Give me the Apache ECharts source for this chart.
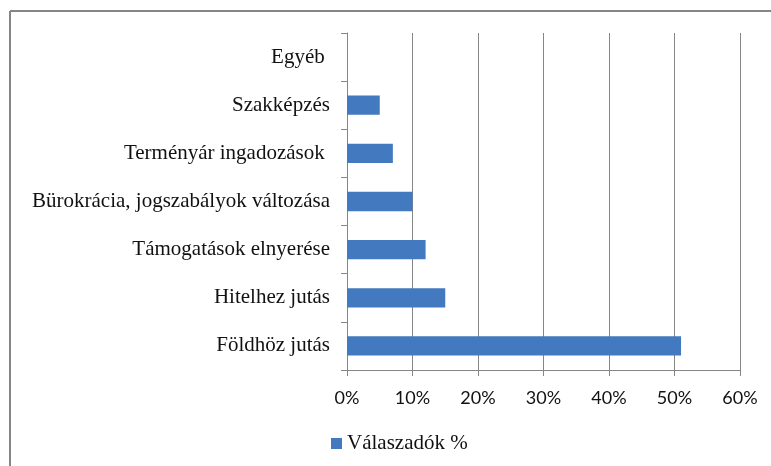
<!DOCTYPE html>
<html>
<head>
<meta charset="utf-8">
<script src="https://cdn.jsdelivr.net/npm/echarts@6/dist/echarts.min.js"></script>
<style>
  html, body { margin: 0; padding: 0; background: #fff; }
  #chart { width: 771px; height: 466px; }
</style>
</head>
<body>
<div id="chart"></div>
<script>
// adatok (alulról felfelé)
const categories = [
  'Földhöz jutás',
  'Hitelhez jutás',
  'Támogatások elnyerése',
  'Bürokrácia, jogszabályok változása',
  'Terményár ingadozások ',
  'Szakképzés',
  'Egyéb '
];
const values = [51, 15, 12, 10, 7, 5, 0];
const seriesName = 'Válaszadók %';

const chart = echarts.init(document.getElementById('chart'));

chart.setOption({
  animation: false,
  // keret: csak a felső és bal vonal látszik
  graphic: [
    { type: 'line', shape: { x1: 10, y1: 11, x2: 771, y2: 11 }, style: { stroke: '#868686', lineWidth: 2 } },
    { type: 'line', shape: { x1: 10, y1: 11, x2: 10, y2: 466 }, style: { stroke: '#868686', lineWidth: 2 } }
  ],
  grid: {
    left: 347,
    right: 31,
    top: 33,
    bottom: 96
  },
  legend: {
    left: 326,
    top: 428,
    itemWidth: 11,
    itemHeight: 11,
    itemGap: 4,
    icon: 'rect',
    textStyle: { fontFamily: 'Liberation Serif', fontSize: 21, color: '#111' },
    data: [seriesName]
  },
  xAxis: {
    type: 'value',
    min: 0,
    max: 60,
    interval: 10,
    axisLine: { show: true, lineStyle: { color: '#868686' } },
    axisTick: { show: true, length: 6, lineStyle: { color: '#868686' } },
    splitLine: { show: true, lineStyle: { color: '#868686' } },
    axisLabel: {
      formatter: '{value}%',
      fontFamily: 'Lato',
      fontSize: 18,
      color: '#111',
      margin: 19
    }
  },
  yAxis: {
    type: 'category',
    data: categories,
    axisLine: { show: true, lineStyle: { color: '#868686' } },
    axisTick: { show: true, length: 6, lineStyle: { color: '#868686' } },
    axisLabel: {
      fontFamily: 'Liberation Serif',
      fontSize: 21,
      color: '#111',
      margin: 17
    }
  },
  series: [{
    name: seriesName,
    type: 'bar',
    data: values,
    barCategoryGap: '60%',
    itemStyle: { color: '#4379be' }
  }]
});
</script>
</body>
</html>
